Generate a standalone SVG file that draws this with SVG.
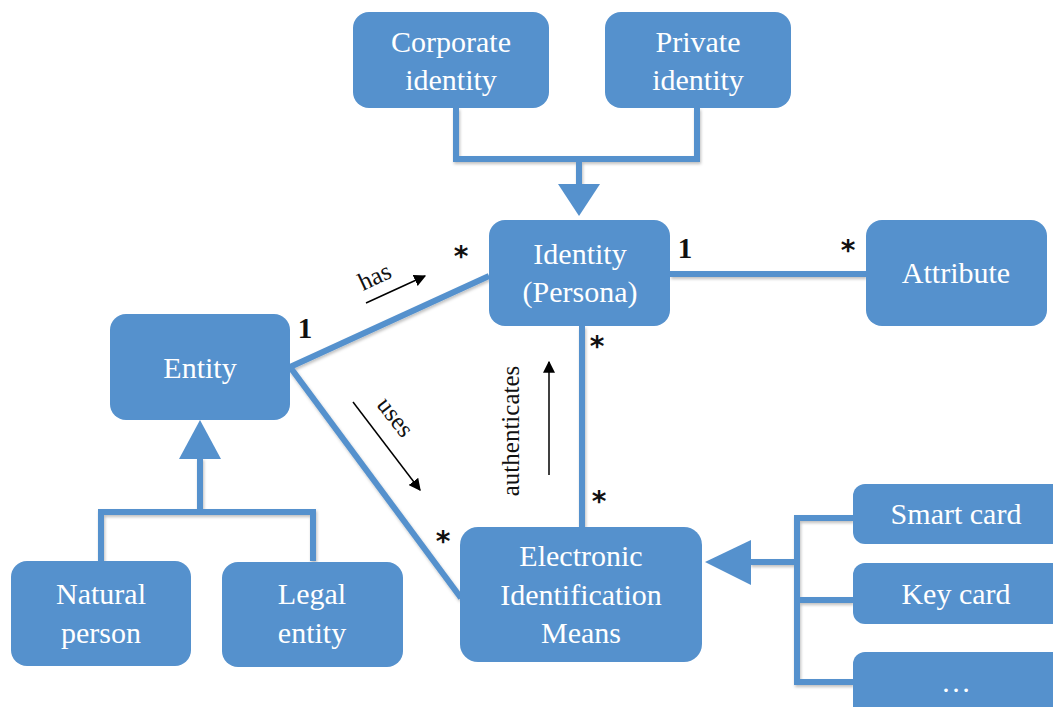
<svg xmlns="http://www.w3.org/2000/svg" width="1053" height="707" viewBox="0 0 1053 707">
  <style>
    .node { fill: #5591cd; }
    .label { font-family: "Liberation Serif", "DejaVu Serif", serif; font-size: 30px; fill: #ffffff; text-anchor: middle; }
    .conn { fill: none; stroke: #5591cd; stroke-width: 6; }
    .head { fill: #5591cd; }
    .one { font-family: "Liberation Serif", serif; font-size: 29px; font-weight: bold; fill: #111; text-anchor: middle; }
    .many { font-family: "DejaVu Sans", sans-serif; font-size: 28px; font-weight: bold; fill: #111; text-anchor: middle; }
    .role { font-family: "Liberation Serif", serif; font-size: 25px; fill: #111; text-anchor: middle; }
    .dir { stroke: #000; stroke-width: 1.5; fill: none; }
  </style>
  <defs>
    <filter id="shadow" x="-10%" y="-10%" width="130%" height="130%">
      <feDropShadow dx="1" dy="2" stdDeviation="1.5" flood-color="#000" flood-opacity="0.25"/>
    </filter>
    <marker id="arrow" viewBox="0 0 10 10" refX="9" refY="5" markerWidth="12" markerHeight="12" markerUnits="userSpaceOnUse" orient="auto">
      <path d="M0,0 L10,5 L0,10 Z" fill="#000"/>
    </marker>
  </defs>
  <rect width="1053" height="707" fill="#ffffff"/>

  <!-- connectors -->
  <g id="connectors">
    <g filter="url(#shadow)">
      <!-- Corporate / Private -> Identity generalization -->
      <polyline class="conn" points="456,108 456,159 697,159 697,108"/>
      <line class="conn" x1="579" y1="159" x2="579" y2="186"/>
      <!-- Identity - Attribute -->
      <line class="conn" x1="670" y1="274" x2="866" y2="274"/>
      <!-- Entity - Identity -->
      <line class="conn" x1="290" y1="367" x2="489" y2="276"/>
      <!-- Entity - EIM -->
      <line class="conn" x1="290" y1="367" x2="461" y2="598"/>
      <!-- Identity - EIM -->
      <line class="conn" x1="582" y1="326" x2="582" y2="527"/>
      <!-- Natural / Legal -> Entity generalization -->
      <line class="conn" x1="200" y1="458" x2="200" y2="512"/>
      <polyline class="conn" points="101,561 101,512 313,512 313,561"/>
      <!-- cards -> EIM generalization -->
      <line class="conn" x1="750" y1="562" x2="797" y2="562"/>
      <polyline class="conn" points="853,518 797,518 797,682 853,682"/>
      <line class="conn" x1="797" y1="600" x2="853" y2="600"/>
    </g>
    <polygon class="head" points="558,184 600,184 579,216"/>
    <polygon class="head" points="179,459 221,459 200,420"/>
    <polygon class="head" points="751,540 751,585 705,562"/>

    <!-- multiplicities -->
    <text class="one" x="305" y="338">1</text>
    <text class="many" x="461" y="266">*</text>
    <text class="one" x="685" y="258">1</text>
    <text class="many" x="848" y="260">*</text>
    <text class="many" x="597" y="356">*</text>
    <text class="many" x="599" y="511">*</text>
    <text class="many" x="443" y="551">*</text>

    <!-- role names with direction arrows -->
    <text class="role" transform="translate(378,284) rotate(-25)">has</text>
    <line class="dir" x1="366" y1="303" x2="425" y2="276" marker-end="url(#arrow)"/>
    <text class="role" transform="translate(389,422) rotate(52)">uses</text>
    <line class="dir" x1="353" y1="402" x2="420" y2="490" marker-end="url(#arrow)"/>
    <text class="role" transform="translate(519,431) rotate(-90)">authenticates</text>
    <line class="dir" x1="549" y1="475" x2="549" y2="362" marker-end="url(#arrow)"/>
  </g>

  <!-- nodes -->
  <g id="corporate-identity">
    <rect class="node" x="353" y="12" width="196" height="96" rx="16"/>
    <text class="label" x="451" y="52">Corporate</text>
    <text class="label" x="451" y="90">identity</text>
  </g>
  <g id="private-identity">
    <rect class="node" x="605" y="12" width="186" height="96" rx="16"/>
    <text class="label" x="698" y="52">Private</text>
    <text class="label" x="698" y="90">identity</text>
  </g>
  <g id="identity">
    <rect class="node" x="489" y="220" width="181" height="106" rx="16"/>
    <text class="label" x="580" y="264">Identity</text>
    <text class="label" x="580" y="302">(Persona)</text>
  </g>
  <g id="attribute">
    <rect class="node" x="866" y="220" width="181" height="106" rx="16"/>
    <text class="label" x="956" y="283">Attribute</text>
  </g>
  <g id="entity">
    <rect class="node" x="110" y="314" width="180" height="106" rx="16"/>
    <text class="label" x="200" y="378">Entity</text>
  </g>
  <g id="natural-person">
    <rect class="node" x="11" y="561" width="180" height="105" rx="16"/>
    <text class="label" x="101" y="604">Natural</text>
    <text class="label" x="101" y="643">person</text>
  </g>
  <g id="legal-entity">
    <rect class="node" x="222" y="562" width="181" height="105" rx="16"/>
    <text class="label" x="312" y="604">Legal</text>
    <text class="label" x="312" y="643">entity</text>
  </g>
  <g id="eid-means">
    <rect class="node" x="460" y="527" width="242" height="135" rx="18"/>
    <text class="label" x="581" y="566">Electronic</text>
    <text class="label" x="581" y="605">Identification</text>
    <text class="label" x="581" y="643">Means</text>
  </g>
  <g id="smart-card">
    <rect class="node" x="853" y="484" width="215" height="60" rx="12"/>
    <text class="label" x="956" y="524">Smart card</text>
  </g>
  <g id="key-card">
    <rect class="node" x="853" y="563" width="215" height="61" rx="12"/>
    <text class="label" x="956" y="604">Key card</text>
  </g>
  <g id="more-means">
    <rect class="node" x="853" y="652" width="215" height="70" rx="12"/>
    <text class="label" x="956" y="692">…</text>
  </g>
</svg>
